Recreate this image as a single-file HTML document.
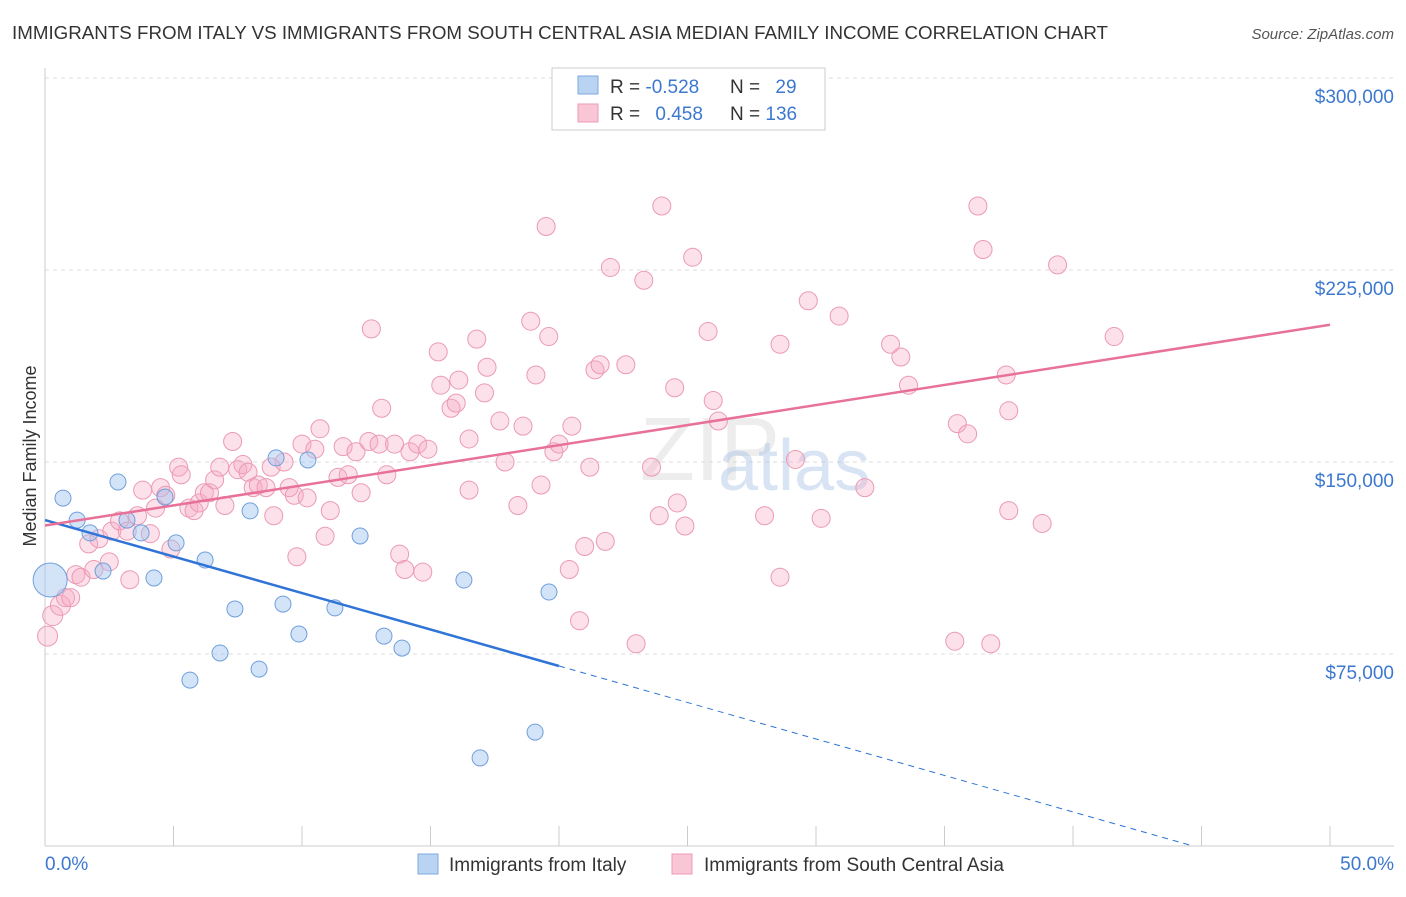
<!DOCTYPE html>
<html><head><meta charset="utf-8">
<style>
body{margin:0;background:#fff;font-family:"Liberation Sans",sans-serif;}
svg text{font-family:"Liberation Sans",sans-serif;}
</style></head>
<body>
<svg id="chart" width="1406" height="892" xmlns="http://www.w3.org/2000/svg">
<text x="12" y="39" font-size="18" fill="#333" textLength="1096" lengthAdjust="spacingAndGlyphs">IMMIGRANTS FROM ITALY VS IMMIGRANTS FROM SOUTH CENTRAL ASIA MEDIAN FAMILY INCOME CORRELATION CHART</text>
<text x="1394" y="39" font-size="15" fill="#555" font-style="italic" text-anchor="end">Source: ZipAtlas.com</text>
<text x="36" y="456" font-size="18" fill="#333" text-anchor="middle" transform="rotate(-90 36 456)">Median Family Income</text>
<g id="grid"></g>
<g id="ticks"></g>
<text x="640" y="480" font-size="90" fill="#ccc" opacity="0.35" font-family="Liberation Serif">ZIP</text>
<text x="718" y="490" font-size="72" fill="#a9c4e6" opacity="0.45">atlas</text>
<g id="pts"></g>
<g id="trend"></g>
<g>
<rect x="552" y="68" width="273" height="62" fill="#fff" stroke="#ccc"/>
<rect x="578" y="76" width="20" height="18" fill="#b9d3f3" stroke="#7fa9dd"/>
<rect x="578" y="104" width="20" height="18" fill="#f9c6d5" stroke="#ee9ab3"/>
<text x="610" y="93" font-size="19" fill="#333">R = <tspan fill="#3d78d0">-0.528</tspan></text>
<text x="730" y="93" font-size="19" fill="#333">N = <tspan fill="#3d78d0" dx="10">29</tspan></text>
<text x="610" y="120" font-size="19" fill="#333">R = <tspan fill="#3d78d0" dx="10">0.458</tspan></text>
<text x="730" y="120" font-size="19" fill="#333">N = <tspan fill="#3d78d0">136</tspan></text>
</g>
<g>
<rect x="418" y="854" width="20" height="20" fill="#b9d3f3" stroke="#7fa9dd"/>
<text x="449" y="871" font-size="19" fill="#333">Immigrants from Italy</text>
<rect x="672" y="854" width="20" height="20" fill="#f9c6d5" stroke="#ee9ab3"/>
<text x="704" y="871" font-size="19" fill="#333">Immigrants from South Central Asia</text>
</g>
<text x="45" y="870" font-size="19" fill="#3d78d0">0.0%</text>
<text x="1394" y="870" font-size="19" fill="#3d78d0" text-anchor="end">50.0%</text>
</svg>
<script>
const yTicks=[75000,150000,225000,300000];
const yTickLabels=["$75,000","$150,000","$225,000","$300,000"];
const xTicks=[0,5,10,15,20,25,30,35,40,45,50];
const italyX=[0.2,0.7,1.25,1.75,2.26,2.84,3.19,3.74,4.24,4.67,5.1,5.64,6.23,6.81,7.39,7.98,8.33,8.99,9.26,9.88,10.23,11.28,12.26,13.19,13.89,16.3,19.07,19.61,16.93];
const italyY=[103.9,135.9,127.3,122.3,107.4,142.2,127.3,122.3,104.7,136.3,118.4,64.8,111.7,75.4,92.6,130.9,69.1,151.6,94.5,82.8,150.8,93,121.1,82,77.3,103.9,44.5,99.2,34.4];
const asiaX=[0.1,0.3,0.6,0.8,1.0,1.2,1.4,1.7,1.9,2.1,2.5,2.6,2.9,3.2,3.3,3.6,3.8,4.1,4.3,4.5,4.7,4.9,5.2,5.3,5.6,5.8,6.0,6.2,6.4,6.6,6.8,7.0,7.3,7.5,7.7,7.9,8.1,8.3,8.6,8.8,8.9,9.3,9.5,9.7,9.8,10.0,10.2,10.5,10.7,10.9,11.1,11.4,11.6,11.8,12.1,12.3,12.6,12.7,13.0,13.1,13.3,13.6,13.8,14.0,14.2,14.5,14.7,14.9,15.3,15.4,15.8,16.0,16.1,16.5,16.5,16.8,17.1,17.2,17.9,17.7,18.4,18.6,18.9,19.1,19.3,19.5,19.6,19.8,20.0,20.4,20.5,20.8,21.0,21.2,21.4,21.6,21.8,22.0,22.6,23.0,23.3,23.6,23.9,24.0,24.6,24.5,24.9,25.2,25.8,26.0,26.2,28.0,28.6,28.6,29.2,29.7,30.2,30.9,31.9,32.9,33.3,33.6,35.4,35.5,35.9,36.3,36.5,36.8,37.4,37.5,37.5,38.8,39.4,41.6];
const asiaY=[82,90,94,97,97,106,105,118,108,120,111,123,127,123,104,129,139,122,132,140,137,116,148,145,132,131,134,138,138,143,148,133,158,147,149,146,140,141,140,148,129,150,140,137,113,157,136,155,163,121,131,144,156,145,154,138,158,202,157,171,145,157,114,108,154,157,107,155,193,180,171,173,182,139,159,198,177,187,150,166,133,164,205,184,141,242,199,154,157,108,164,88,117,148,186,188,119,226,188,79,221,148,129,250,134,179,125,230,201,174,166,129,196,105,151,213,128,207,140,196,191,180,80,165,161,250,233,79,184,170,131,126,227,199];
const NS="http://www.w3.org/2000/svg";
const X=v=>45+v*25.7;
const Y=v=>846-v*2.56; // v in thousands
const mk=(t,a,p)=>{const e=document.createElementNS(NS,t);for(const k in a)e.setAttribute(k,a[k]);p.appendChild(e);return e;};
const grid=document.getElementById('grid'),ticks=document.getElementById('ticks');
yTicks.forEach((t,i)=>{
  const l=mk('line',{x1:45,x2:1394,y1:Y(t/1000),y2:Y(t/1000),stroke:'#ddd','stroke-dasharray':'4,4'},grid);
  
  
  const tx=mk('text',{x:1394,y:Y(t/1000)+25,'font-size':19,fill:'#3d78d0','text-anchor':'end'},ticks);
  tx.textContent=yTickLabels[i];
  
  
});
mk('line',{x1:45,x2:45,y1:68,y2:846,stroke:'#ccc'},ticks);
mk('line',{x1:45,x2:1394,y1:846,y2:846,stroke:'#ccc'},ticks);
xTicks.forEach(t=>{const l=mk('line',{x1:X(t),x2:X(t),y1:826,y2:846,stroke:'#ccc'},ticks);
  
  });
const pts=document.getElementById('pts');
asiaX.forEach((x,i)=>{const c=mk('circle',{cx:X(x),cy:Y(asiaY[i]),r:i<3?10:9,fill:'rgba(246,170,195,0.35)',stroke:'#eb9ab4','stroke-width':1},pts);
  
  });
italyX.forEach((x,i)=>{const c=mk('circle',{cx:X(x),cy:Y(italyY[i]),r:i==0?17:8,fill:'rgba(160,196,240,0.45)',stroke:'#6f9fdc','stroke-width':1},pts);
  
  });
function reg(xs,ys){const n=xs.length;let mx=0,my=0;xs.forEach((x,i)=>{mx+=x;my+=ys[i];});mx/=n;my/=n;let sxy=0,sxx=0;xs.forEach((x,i)=>{sxy+=(x-mx)*(ys[i]-my);sxx+=(x-mx)**2;});const b=sxy/sxx;return [my-b*mx,b];}
const tr=document.getElementById('trend');
const [ai,bi]=reg(italyX,italyY);
const l1=mk('line',{x1:X(0),y1:Y(ai),x2:X(20),y2:Y(ai+bi*20),stroke:'#2f74d6','stroke-width':2.5},tr);


const xz=Math.min(50,-ai/bi);
const l2=mk('line',{x1:X(20),y1:Y(ai+bi*20),x2:X(xz),y2:Y(ai+bi*xz),stroke:'#2f74d6','stroke-width':1,'stroke-dasharray':'6,5'},tr);


const [aa,ba]=reg(asiaX,asiaY);
const l3=mk('line',{x1:X(0),y1:Y(aa),x2:X(50),y2:Y(aa+ba*50),stroke:'#e8719a','stroke-width':2.5},tr);


</script>
</body></html>
